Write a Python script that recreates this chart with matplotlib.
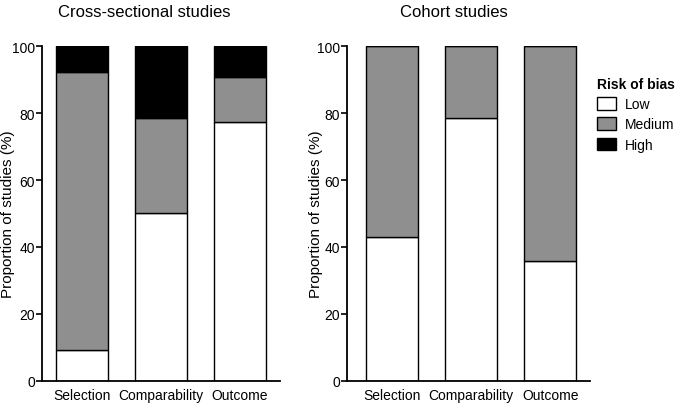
# stacked risk-of-bias bars for cross-sectional and cohort studies
import matplotlib.pyplot as plt
from matplotlib.patches import Patch

plt.rcParams['font.family'] = ['Liberation Sans', 'DejaVu Sans']

domains = ['Selection', 'Comparability', 'Outcome']
levels = ['Low', 'Medium', 'High']
colors = ['white', '#8f8f8f', 'black']

# proportions (%)
cross_low = [9.1, 50.0, 77.3]
cross_medium = [83.2, 28.6, 13.6]
cross_high = [7.7, 21.4, 9.1]

cohort_low = [42.9, 78.6, 35.7]
cohort_medium = [57.1, 21.4, 64.3]
cohort_high = [0.0, 0.0, 0.0]


def draw_panel(ax, low, medium, high, title, title_x, label_x):
    x = range(len(domains))
    bottom = [0.0] * len(domains)
    for vals, c in zip([low, medium, high], colors):
        ax.bar(x, vals, width=0.66, bottom=bottom, color=c,
               edgecolor='black', linewidth=1.0)
        bottom = [b + v for b, v in zip(bottom, vals)]
    ax.set_ylim(0, 100)
    ax.set_yticks([0, 20, 40, 60, 80, 100])
    ax.set_xticks(list(x))
    ax.set_xticklabels(domains, fontsize=10)
    ax.tick_params(axis='y', labelsize=10, length=4, width=1.2, pad=1)
    ax.tick_params(axis='x', length=0, pad=5)
    ax.spines['top'].set_visible(False)
    ax.spines['right'].set_visible(False)
    ax.spines['left'].set_linewidth(1.3)
    ax.spines['bottom'].set_linewidth(1.3)
    ax.set_ylabel('Proportion of studies (%)', fontsize=11)
    ax.yaxis.set_label_coords(label_x, 0.5)
    ax.text(title_x, 1.105, title, transform=ax.transAxes, ha='center',
            va='center', fontsize=12)


fig = plt.figure(figsize=(6.78, 4.06), dpi=100)
ax1 = fig.add_axes([0.062, 0.060, 0.351, 0.8235])
ax2 = fig.add_axes([0.512, 0.060, 0.358, 0.8235])

draw_panel(ax1, cross_low, cross_medium, cross_high,
           'Cross-sectional studies', 0.43, -0.113)
ax1.set_xlim(-0.506, 2.506)
draw_panel(ax2, cohort_low, cohort_medium, cohort_high,
           'Cohort studies', 0.44, -0.099)
ax2.set_xlim(-0.57, 2.5)

handles = [Patch(facecolor=c, edgecolor='black', linewidth=1.0) for c in colors]
leg = fig.legend(handles, levels, title='Risk of bias', loc='upper left',
                 bbox_to_anchor=(0.872, 0.822), frameon=False, fontsize=10,
                 handlelength=1.4, handleheight=1.0, handletextpad=0.6,
                 labelspacing=0.45, borderaxespad=0)
leg.get_title().set_fontweight('bold')
leg.get_title().set_fontsize(10)
leg._legend_box.align = 'left'

plt.savefig('out.png', dpi=100)
